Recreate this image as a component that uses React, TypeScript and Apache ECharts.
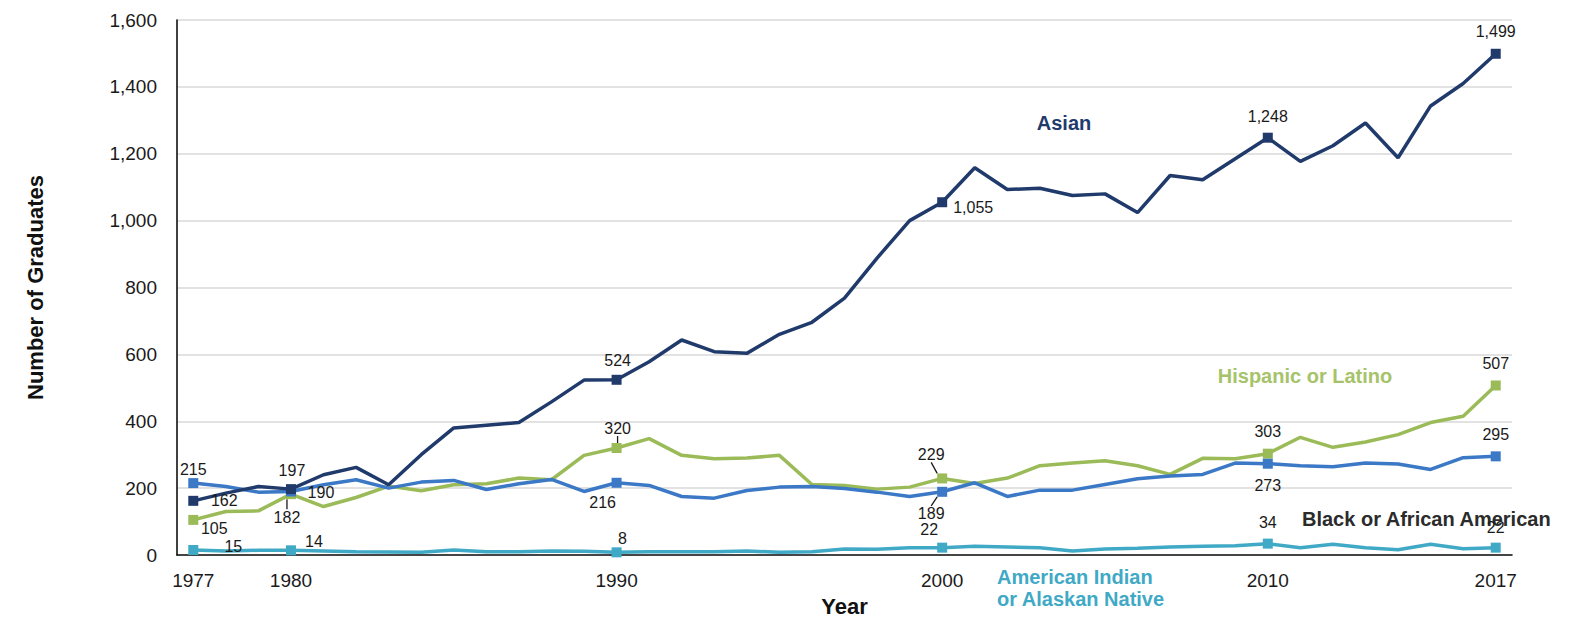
import React, { useEffect, useRef } from "react";
import * as echarts from "echarts";

const FONT = "'Liberation Sans', Arial, Helvetica, sans-serif";

const years = [
  "1977", "1978", "1979", "1980", "1981", "1982", "1983", "1984", "1985", "1986",
  "1987", "1988", "1989", "1990", "1991", "1992", "1993", "1994", "1995", "1996",
  "1997", "1998", "1999", "2000", "2001", "2002", "2003", "2004", "2005", "2006",
  "2007", "2008", "2009", "2010", "2011", "2012", "2013", "2014", "2015", "2016",
  "2017",
];
const tickYears = ["1977", "1980", "1990", "2000", "2010", "2017"];

const asian = [
  162, 185, 205, 197, 240, 262, 210, 300, 380, 388,
  396, 458, 523, 524, 578, 643, 608, 603, 660, 696,
  768, 888, 1000, 1055, 1158, 1093, 1097, 1075, 1080, 1024,
  1135, 1122, 1185, 1248, 1177, 1224, 1292, 1188, 1343, 1410,
  1499,
];
const black = [
  215, 205, 188, 190, 210, 225, 200, 218, 223, 196,
  213, 226, 190, 216, 208, 175, 170, 193, 203, 205,
  199, 188, 175, 189, 216, 175, 194, 194, 211, 228,
  236, 241, 275, 273, 267, 264, 275, 272, 256, 291,
  295,
];
const hispanic = [
  105, 130, 132, 182, 145, 172, 206, 192, 210, 213,
  230, 225, 298, 320, 348, 298, 288, 290, 298, 211,
  208, 197, 203, 229, 214, 230, 267, 275, 282, 267,
  241, 289, 288, 303, 352, 322, 338, 360, 396, 415,
  507,
];
const amInd = [
  15, 12, 14, 14, 12, 10, 9, 8, 15, 10,
  10, 12, 11, 8, 10, 10, 10, 12, 8, 10,
  18, 17, 22, 22, 26, 24, 22, 12, 18, 20,
  24, 26, 28, 34, 22, 32, 22, 16, 32, 19,
  22,
];

// years whose points carry a marker and a value label
const labelYears = ["1977", "1980", "1990", "2000", "2010", "2017"];
// label placement (pixel shift from the point), one entry per labelYear
const asianOffsets = [[31, 0], [1, -19], [1, -19], [31, 5], [0, -21], [0, -22]];
const blackOffsets = [[0, -14], [30, 1], [-14, 20], [-11, 22], [0, 22], [0, -22]];
const hispanicOffsets = [[21, 9], [-4, 23], [1, -20], [-11, -24], [0, -22], [0, -22]];
const amIndOffsets = [[40, -3], [23, -9], [6, -14], [-13, -18], [0, -21], [0, -20]];
const hispanicLeaders = ["1980", "1990", "2000"];
const blackLeaders = ["2000"];

const COLORS = {
  asian: "#1f3a6b",
  black: "#3b78c6",
  hispanic: "#9bbb59",
  amInd: "#40a9c6",
};

function makeSeries(name, values, color, offsets, leaders, z) {
  const data = values.map((v, i) => {
    const yr = years[i];
    const li = labelYears.indexOf(yr);
    if (li < 0) return { value: v, symbolSize: 0, label: { show: false } };
    return {
      value: v,
      symbolSize: 10,
      label: { show: true },
      labelLine: { show: leaders.includes(yr) },
    };
  });
  return {
    type: "line",
    name,
    data,
    z,
    symbol: "rect",
    showAllSymbol: true,
    lineStyle: { width: 3.5, color },
    itemStyle: { color },
    label: {
      show: false,
      position: "inside",
      color: "#1a1a1a",
      fontSize: 16,
      fontFamily: FONT,
      formatter: (p) => Number(p.value).toLocaleString("en-US"),
    },
    labelLine: { show: false, lineStyle: { color: "#1a1a1a", width: 1.3 } },
    labelLayout: (p) => {
      const li = labelYears.indexOf(years[p.dataIndex]);
      if (li < 0) return {};
      return { dx: offsets[li][0], dy: offsets[li][1] };
    },
    emphasis: { disabled: true },
  };
}

export default function App() {
  const ref = useRef(null);
  useEffect(() => {
    document.body.style.margin = "0";
    const chart = echarts.init(ref.current, null, { renderer: "svg" });
    chart.setOption({
      animation: false,
      backgroundColor: "#ffffff",
      grid: {
        left: 177,
        right: 60,
        top: 20,
        bottom: 64,
        containLabel: false,
        outerBoundsMode: "none",
      },
      xAxis: {
        type: "category",
        data: years,
        boundaryGap: true,
        axisLine: { lineStyle: { color: "#111", width: 1.6 } },
        axisTick: { show: false },
        splitLine: { show: false },
        axisLabel: {
          interval: (i, v) => tickYears.includes(v),
          fontSize: 19,
          fontFamily: FONT,
          color: "#1a1a1a",
          margin: 16,
        },
        name: "Year",
        nameLocation: "middle",
        nameGap: 40,
        nameTextStyle: { fontSize: 22, fontWeight: "bold", fontFamily: FONT, color: "#111" },
      },
      yAxis: {
        type: "value",
        min: 0,
        max: 1600,
        interval: 200,
        axisLine: { show: true, lineStyle: { color: "#111", width: 1.6 } },
        axisTick: { show: false },
        splitLine: { lineStyle: { color: "#d9d9d9", width: 1.5 } },
        axisLabel: {
          fontSize: 19,
          fontFamily: FONT,
          color: "#1a1a1a",
          margin: 20,
          formatter: (v) => Number(v).toLocaleString("en-US"),
        },
        name: "Number of Graduates",
        nameLocation: "middle",
        nameRotate: 90,
        nameGap: 131,
        nameTextStyle: { fontSize: 22, fontWeight: "bold", fontFamily: FONT, color: "#111" },
      },
      series: [
        makeSeries("American Indian or Alaskan Native", amInd, COLORS.amInd, amIndOffsets, [], 2),
        makeSeries("Hispanic or Latino", hispanic, COLORS.hispanic, hispanicOffsets, hispanicLeaders, 3),
        makeSeries("Black or African American", black, COLORS.black, blackOffsets, blackLeaders, 4),
        makeSeries("Asian", asian, COLORS.asian, asianOffsets, [], 5),
      ],
      graphic: [
        {
          type: "text",
          x: 1064,
          y: 123,
          style: {
            text: "Asian",
            fill: COLORS.asian,
            fontSize: 20,
            fontWeight: "bold",
            fontFamily: FONT,
            textAlign: "center",
            textVerticalAlign: "middle",
          },
        },
        {
          type: "text",
          x: 1305,
          y: 376,
          style: {
            text: "Hispanic or Latino",
            fill: "#a6c36a",
            fontSize: 20,
            fontWeight: "bold",
            fontFamily: FONT,
            textAlign: "center",
            textVerticalAlign: "middle",
          },
        },
        {
          type: "text",
          x: 1302,
          y: 519,
          z: 0,
          style: {
            text: "Black or African American",
            fill: "#2b2b2b",
            fontSize: 20,
            fontWeight: "bold",
            fontFamily: FONT,
            textAlign: "left",
            textVerticalAlign: "middle",
          },
        },
        {
          type: "text",
          x: 997,
          y: 577,
          style: {
            text: "American Indian",
            fill: COLORS.amInd,
            fontSize: 20,
            fontWeight: "bold",
            fontFamily: FONT,
            textAlign: "left",
            textVerticalAlign: "middle",
          },
        },
        {
          type: "text",
          x: 997,
          y: 599,
          style: {
            text: "or Alaskan Native",
            fill: COLORS.amInd,
            fontSize: 20,
            fontWeight: "bold",
            fontFamily: FONT,
            textAlign: "left",
            textVerticalAlign: "middle",
          },
        },
      ],
    });
    return () => chart.dispose();
  }, []);
  return <div ref={ref} style={{ width: 1572, height: 619 }} />;
}
